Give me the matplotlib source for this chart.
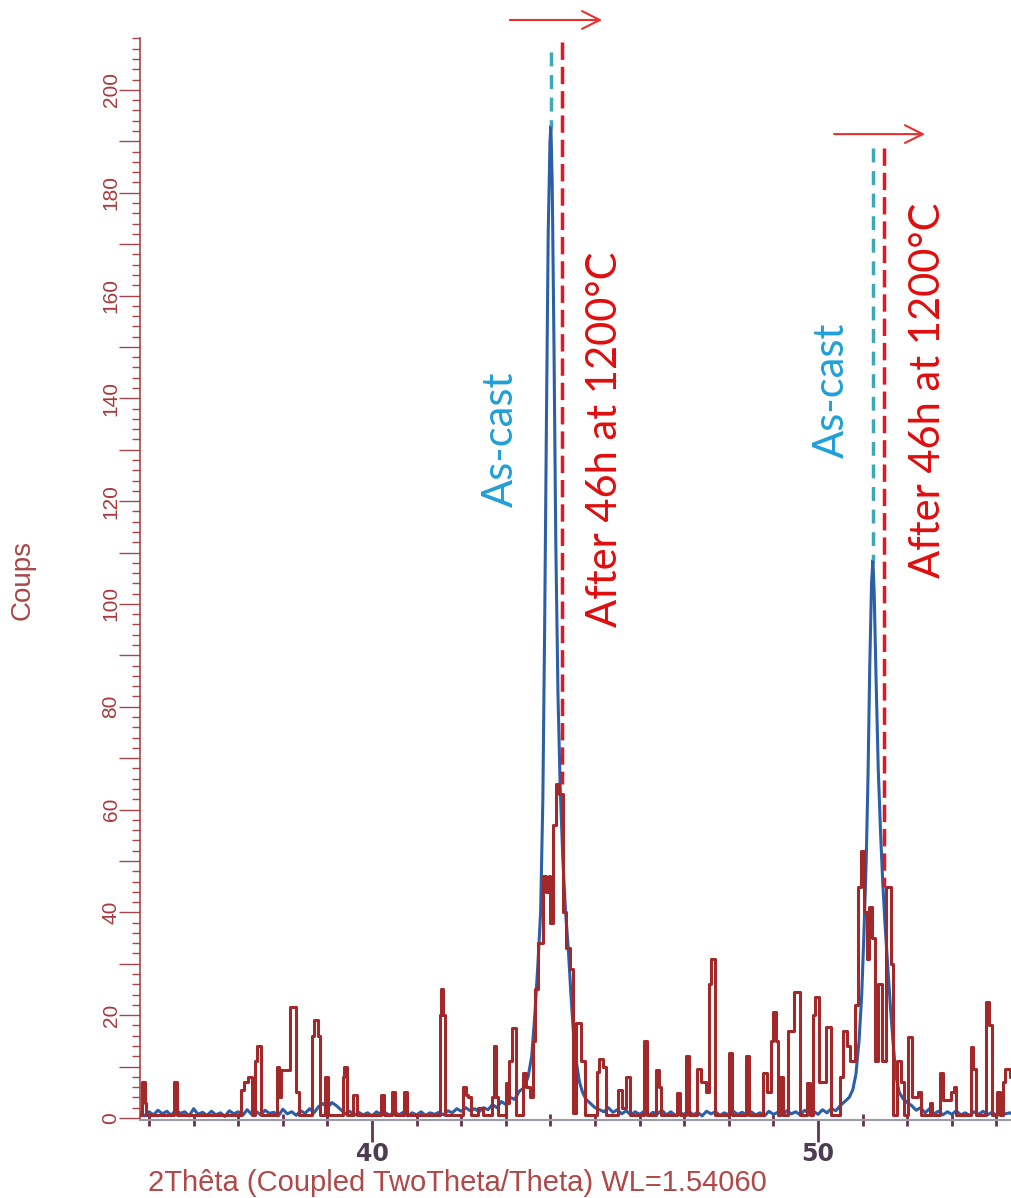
import numpy as np
import matplotlib.pyplot as plt
from matplotlib.ticker import MultipleLocator, FixedLocator, FuncFormatter

# As-cast scan (blue)
blue_x = [34.8, 34.9, 35.0, 35.1, 35.2, 35.3, 35.4, 35.5, 35.6, 35.7, 35.8, 35.9,
          36.0, 36.1, 36.2, 36.3, 36.4, 36.5, 36.6, 36.7, 36.8, 36.9, 37.0, 37.1,
          37.2, 37.3, 37.4, 37.5, 37.6, 37.7, 37.8, 37.9, 38.0, 38.1, 38.2, 38.3,
          38.4, 38.5, 38.6, 38.7, 38.8, 38.9, 39.0, 39.1, 39.2, 39.3, 39.4, 39.5,
          39.6, 39.7, 39.8, 39.9, 40.0, 40.1, 40.2, 40.3, 40.4, 40.5, 40.6, 40.7,
          40.8, 40.9, 41.0, 41.1, 41.2, 41.3, 41.4, 41.5, 41.6, 41.7, 41.8, 41.9,
          42.0, 42.1, 42.2, 42.3, 42.4, 42.5, 42.6, 42.7, 42.8, 42.9, 43.0, 43.1,
          43.2, 43.3,
          43.4, 43.5, 43.58, 43.65, 43.72, 43.78, 43.83, 43.87, 43.91, 43.95, 43.99,
          44.01, 44.04, 44.08, 44.12, 44.17, 44.22, 44.28, 44.34, 44.40, 44.46,
          44.52, 44.58, 44.65, 44.72, 44.8, 44.9, 45.0, 45.1,
          45.2, 45.3, 45.4, 45.5, 45.6, 45.7, 45.8, 45.9, 46.0, 46.1, 46.2, 46.3,
          46.4, 46.5, 46.6, 46.7, 46.8, 46.9, 47.0, 47.1, 47.2, 47.3, 47.4, 47.5,
          47.6, 47.7, 47.8, 47.9, 48.0, 48.1, 48.2, 48.3, 48.4, 48.5, 48.6, 48.7,
          48.8, 48.9, 49.0, 49.1, 49.2, 49.3, 49.4, 49.5, 49.6, 49.7, 49.8, 49.9,
          50.0, 50.1, 50.2, 50.3, 50.4, 50.5,
          50.6, 50.7, 50.78, 50.85, 50.92, 50.98, 51.03, 51.08, 51.12, 51.16, 51.20,
          51.23, 51.26, 51.30, 51.35, 51.40, 51.45, 51.50, 51.56, 51.62, 51.68,
          51.75, 51.82, 51.9, 52.0, 52.1,
          52.2, 52.3, 52.4, 52.5, 52.6, 52.7, 52.8, 52.9, 53.0, 53.1, 53.2, 53.3,
          53.4, 53.5, 53.6, 53.7, 53.8, 53.9, 54.0, 54.1, 54.2, 54.3, 54.4]
blue_y = [1.0, 0.4, 1.2, 0.6, 1.5, 0.8, 1.3, 0.5, 1.6, 0.9, 1.2, 0.4,
          1.8, 0.7, 1.1, 0.5, 1.3, 0.6, 1.0, 0.3, 1.4, 0.8, 1.2, 0.5,
          1.6, 0.7, 1.3, 0.6, 1.5, 0.9, 1.1, 0.4, 1.7, 0.8, 1.2, 0.5,
          1.4, 0.9, 1.8, 1.0, 2.2, 2.8, 2.0, 3.0, 2.4, 1.6, 0.8, 1.3,
          0.5, 1.1, 0.6, 1.0, 0.4, 1.2, 0.7, 1.0, 0.5, 1.3, 0.6, 1.1,
          0.4, 1.0, 0.6, 1.2, 0.5, 1.0, 0.7, 1.1, 0.6, 1.4, 1.0, 1.8,
          1.3, 2.0, 1.4, 1.8, 1.2, 2.0, 1.6, 2.6, 2.0, 3.2, 2.6, 4.0,
          3.6, 5.2,
          5.8, 8.0, 12, 20, 30, 40, 62, 95, 135, 172, 190,
          193, 182, 150, 112, 82, 64, 50, 40, 33, 24,
          16, 11, 7, 5, 3.6, 2.8, 2.0, 1.6,
          1.2, 2.0, 1.1, 1.6, 0.8, 1.4, 0.6, 1.2, 0.7, 1.3, 0.5, 1.1,
          0.8, 1.5, 0.6, 1.2, 0.5, 1.0, 0.7, 1.4, 0.6, 1.1, 0.4, 1.3,
          0.8, 1.2, 0.5, 1.0, 0.6, 1.3, 0.7, 1.1, 0.5, 1.2, 0.6, 1.0,
          0.4, 1.3, 0.7, 1.1, 0.5, 1.4, 0.8, 1.2, 0.6, 1.5, 0.9, 1.3,
          0.7, 1.6, 1.0, 1.8, 1.4, 2.4,
          3.2, 4.0, 5.5, 8.5, 15, 24, 36, 50, 66, 88, 104,
          108.5, 102, 86, 68, 56, 46, 38, 30, 22, 15,
          8, 5, 3.8, 3.0, 2.4,
          1.5, 2.0, 1.0, 1.8, 0.8, 1.3, 0.6, 1.2, 0.7, 1.4, 0.6, 1.0,
          0.5, 1.2, 0.7, 1.3, 0.6, 1.1, 0.5, 1.2, 0.8, 1.0, 0.6]

# After 46h at 1200°C (red): level changes of the stepped trace
red_x = [34.80, 34.84, 34.90, 34.93, 35.55, 35.62, 37.06, 37.14, 37.22, 37.30,
         37.38, 37.43, 37.50, 37.86, 37.92, 37.97, 38.16, 38.30, 38.36, 38.66,
         38.70, 38.78, 38.84, 38.95, 39.01, 39.34, 39.37, 39.44, 39.58, 39.66,
         40.19, 40.26, 40.44, 40.51, 40.71, 40.78, 41.52, 41.55, 41.60, 41.64,
         42.03, 42.10, 42.16, 42.22, 42.38, 42.48, 42.69, 42.73, 42.79, 42.83,
         43.00, 43.05, 43.08, 43.13, 43.22, 43.38, 43.45, 43.54, 43.62, 43.66,
         43.72, 43.84, 43.90, 43.96, 44.00, 44.06, 44.13, 44.20, 44.28, 44.35,
         44.43, 44.50, 44.58, 44.68, 44.78, 45.05, 45.09, 45.18, 45.25, 45.52,
         45.60, 45.70, 45.78, 46.09, 46.17, 46.37, 46.44, 46.49, 46.84, 46.90,
         47.05, 47.11, 47.29, 47.38, 47.48, 47.56, 47.60, 47.70, 48.01, 48.07,
         48.39, 48.45, 48.76, 48.86, 48.95, 48.98, 49.06, 49.10, 49.15, 49.22,
         49.33, 49.46, 49.60, 49.75, 49.82, 49.89, 49.94, 50.03, 50.18, 50.28,
         50.50, 50.56, 50.66, 50.72, 50.84, 50.90, 50.96, 51.03, 51.09, 51.15,
         51.22, 51.27, 51.35, 51.43, 51.52, 51.64, 51.68, 51.76, 51.85, 51.92,
         52.02, 52.10, 52.24, 52.30, 52.50, 52.55, 52.73, 52.81, 52.98, 53.05,
         53.10, 53.42, 53.48, 53.55, 53.76, 53.84, 53.90, 54.02, 54.08, 54.15,
         54.20, 54.30, 54.40]
red_y = [0.5, 7, 3, 0.5, 7, 0.5, 5.5, 7, 8, 0.5,
         11, 14, 0.5, 10, 4, 9.3, 21.6, 5, 0.5, 16,
         19, 16, 0.5, 8, 0.5, 8, 10, 0.5, 4.5, 0.5,
         4.5, 0.5, 5, 0.5, 5, 0.5, 20, 25, 20, 0.5,
         6, 4.5, 4, 0.5, 2, 0.5, 4, 14, 4, 0.5,
         6.8, 3, 11, 17.5, 0.5, 8.7, 6, 4, 15, 25,
         34, 47, 44, 47, 38, 57, 65, 63, 40, 33,
         29, 1, 18.5, 11, 0.5, 9, 11.5, 10, 0.5, 5.5,
         2, 8, 0.5, 15, 0.5, 9.3, 6, 0.5, 4.8, 0.5,
         12, 0.5, 9.5, 7, 5, 26, 31, 0.5, 12.6, 0.5,
         12, 0.5, 8.7, 5, 15, 20.6, 15, 0.5, 8, 0.5,
         17, 24.5, 0.5, 6.8, 0.5, 20, 23.5, 7, 17.7, 0.5,
         8, 17, 14, 11, 22, 45, 52, 40, 31, 41,
         35, 11, 26, 11, 45, 30, 0.5, 11, 7, 0.5,
         15.8, 4, 5, 0.5, 3, 0.5, 8.7, 3.5, 5, 6,
         0.5, 13.8, 9.5, 0.5, 22.5, 18, 0.5, 5, 0.5, 7,
         9.5, 8, 8]

y_major = [0, 10, 20, 30, 40, 50, 60, 70, 80, 90, 100,
           110, 120, 130, 140, 150, 160, 170, 180, 190, 200]
x_major = [40, 50]

# peak markers: (x, y_top, y_bottom)
ascast_marks = [(44.01, 207.4, 193), (51.23, 188.7, 108.5)]
annealed_marks = [(44.26, 209.3, 65), (51.48, 188.7, 45)]
arrows = [(43.09, 45.16, 213.6), (50.36, 52.40, 191.4)]
ascast_text_pos = [(42.89, 132), (50.31, 141.6)]
annealed_text_pos = [(45.22, 132), (52.47, 141.6)]

red_dark = '#a3282a'
blue_line = '#2b5fa8'
axis_red = '#a8454a'

fig = plt.figure(figsize=(10.11, 11.98), dpi=100)
ax = fig.add_axes([0.1385, 0.0651, 0.8615, 0.9032])

ax.plot(blue_x, blue_y, color=blue_line, lw=2.2, zorder=2)
ax.plot(red_x, red_y, color=red_dark, lw=2.2, drawstyle='steps-post', zorder=3)

for x, y0, y1 in ascast_marks:
    ax.plot([x, x], [y0, y1], color='#3aaabb', lw=2.5, dashes=(4, 2.5), zorder=4)
for x, y0, y1 in annealed_marks:
    ax.plot([x, x], [y0, y1], color='#e8141e', lw=2.5, dashes=(5, 2), zorder=4)
for x0, x1, y in arrows:
    ax.annotate('', xy=(x1, y), xytext=(x0, y), annotation_clip=False,
                arrowprops=dict(arrowstyle='->', color='#e8302f', lw=1.5,
                                mutation_scale=32, shrinkA=0, shrinkB=0))
for x, y in ascast_text_pos:
    ax.text(x, y, 'As-cast', rotation=90, color='#1fa0d8', fontsize=30,
            family='Lato', ha='center', va='center')
for x, y in annealed_text_pos:
    ax.text(x, y, 'After 46h at 1200°C', rotation=90, color='#e00e0e',
            fontsize=30, family='Lato', ha='center', va='center')

ax.set_xlim(34.798, 54.327)
ax.set_ylim(-0.4, 210.1)

for s in ['top', 'right']:
    ax.spines[s].set_visible(False)
ax.spines['left'].set_color(axis_red)
ax.spines['left'].set_linewidth(1.2)
ax.spines['bottom'].set_color('#9a9aa8')
ax.spines['bottom'].set_linewidth(1.5)

# long ticks every 10, labels only every 20
ax.yaxis.set_major_locator(FixedLocator(y_major))
ax.yaxis.set_major_formatter(FuncFormatter(lambda v, p: f'{v:.0f}' if v % 20 == 0 else ''))
ax.yaxis.set_minor_locator(MultipleLocator(2))
ax.tick_params(axis='y', which='major', length=15, width=1, color=axis_red,
               labelcolor='#a8383c', labelsize=15, labelrotation=90, pad=-1)
ax.tick_params(axis='y', which='minor', length=6, width=1, color=axis_red)
for lab in ax.get_yticklabels():
    lab.set_family('Liberation Sans')
    lab.set_va('center')

ax.xaxis.set_major_locator(FixedLocator(x_major))
ax.xaxis.set_minor_locator(MultipleLocator(1))
ax.tick_params(axis='x', which='major', length=16, width=2, color='#6a3050',
               labelcolor='#4e3d52', labelsize=17, pad=0)
ax.tick_params(axis='x', which='minor', length=8, width=2, direction='inout',
               color='#6a3050')
for lab in ax.get_xticklabels():
    lab.set_fontweight('bold')

fig.text(0.022, 0.516, 'Coups', rotation=90, color='#a84848', fontsize=20,
         family='Liberation Sans', ha='center', va='center')
fig.text(0.146, 0.0125, '2Thêta (Coupled TwoTheta/Theta) WL=1.54060', color='#b04848',
         fontsize=21, family='Liberation Sans', ha='left', va='center')

fig.savefig('out.png', dpi=100)
